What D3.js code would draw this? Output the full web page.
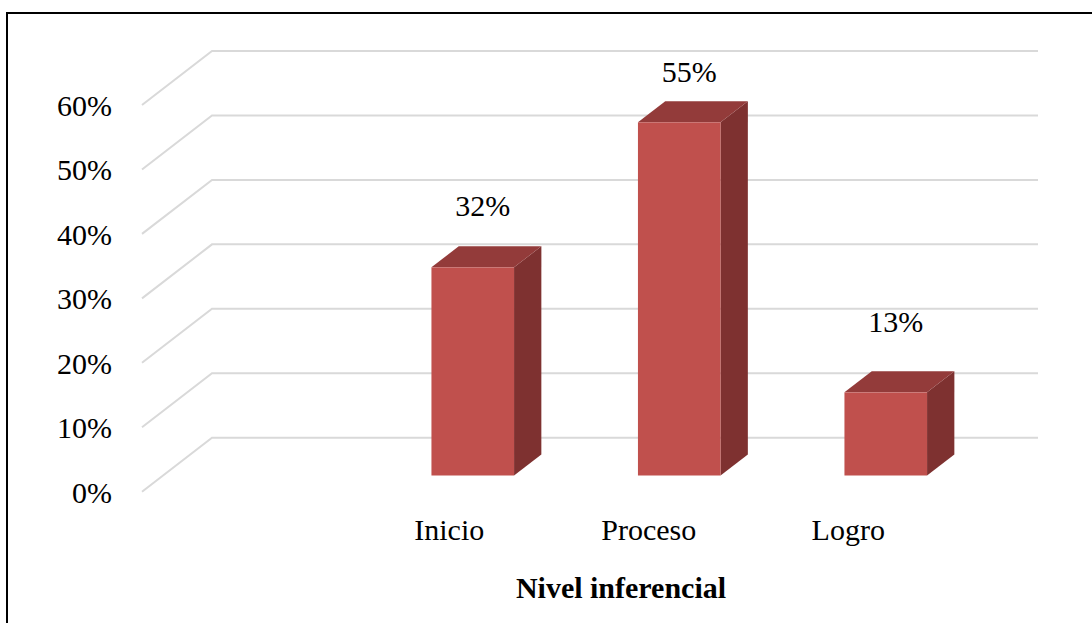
<!DOCTYPE html>
<html>
<head>
<meta charset="utf-8">
<script src="https://cdn.jsdelivr.net/npm/d3@7"></script>
<style>
  html, body { margin: 0; padding: 0; background: #fff; }
  svg { display: block; }
</style>
</head>
<body>
<svg id="chart" width="1092" height="623"></svg>
<script>
// ---- data ----
const categories = ["", "Inicio", "Proceso", "Logro"];
const values = [null, 32.3, 54.8, 12.9];
const valueLabels = ["", "32%", "55%", "13%"];
const yTicks = [0, 10, 20, 30, 40, 50, 60];
const yTickLabels = ["0%", "10%", "20%", "30%", "40%", "50%", "60%"];
const axisTitle = "Nivel inferencial";

// ---- layout ----
const FONT = "'Liberation Serif', 'Times New Roman', Tinos, 'DejaVu Serif', serif";
const svg = d3.select("#chart");

// chart frame (extends beyond right/bottom edges as in reference)
svg.append("rect")
  .attr("x", 7).attr("y", 13)
  .attr("width", 1200).attr("height", 800)
  .attr("fill", "none").attr("stroke", "#000").attr("stroke-width", 2);

const DX = 70, DY = 54;          // depth projection of back wall
const Z0 = 0.3, Z1 = 0.69;       // bar depth span (fraction of depth)
const x = d3.scaleBand().domain(categories).range([142, 968]).paddingInner(0).paddingOuter(0);
const y = d3.scaleLinear().domain([0, 60]).range([491.7, 105]);
const xLab = d3.scaleBand().domain(categories).range([150, 948]);
const yLab = d3.scaleLinear().domain([0, 60]).range([408.7, 50.7]);

// gridlines: side wall diagonal + back wall horizontal
const grid = svg.append("g");
yTicks.forEach(t => {
  const yf = y(t);
  grid.append("polyline")
    .attr("points", `${142},${yf} ${142 + DX},${yf - DY} ${968 + DX},${yf - DY}`)
    .attr("fill", "none").attr("stroke", "#D9D9D9").attr("stroke-width", 2);
});

// y tick labels
svg.append("g").selectAll("text").data(yTicks).join("text")
  .attr("x", 112).attr("y", d => y(d) + 11)
  .attr("text-anchor", "end")
  .attr("font-family", FONT).attr("font-size", 30).attr("fill", "#000")
  .text((d, i) => yTickLabels[i]);

// bars
const bw = x.bandwidth() * 0.4;
const bars = svg.append("g");
categories.forEach((c, i) => {
  const v = values[i];
  if (v == null) return;
  const sx0 = DX * Z0, sy0 = DY * Z0;
  const sx1 = DX * Z1, sy1 = DY * Z1;
  const xl = x(c) + (x.bandwidth() - bw) / 2 + sx0;
  const xr = xl + bw;
  const yb = y(0) - sy0;
  const yt = y(v) - sy0;
  const ddx = sx1 - sx0, ddy = sy1 - sy0;
  // side face
  bars.append("polygon")
    .attr("points", `${xr},${yt} ${xr + ddx},${yt - ddy} ${xr + ddx},${yb - ddy} ${xr},${yb}`)
    .attr("fill", "#7E3130");
  // top face
  bars.append("polygon")
    .attr("points", `${xl},${yt} ${xl + ddx},${yt - ddy} ${xr + ddx},${yt - ddy} ${xr},${yt}`)
    .attr("fill", "#933B3A");
  // front face
  bars.append("rect")
    .attr("x", xl).attr("y", yt).attr("width", bw).attr("height", yb - yt)
    .attr("fill", "#C0504D");
  // value label
  svg.append("text")
    .attr("x", xl + bw / 2 + 10)
    .attr("y", yLab(v))
    .attr("text-anchor", "middle")
    .attr("font-family", FONT).attr("font-size", 30).attr("fill", "#000")
    .text(valueLabels[i]);
});

// category labels
svg.append("g").selectAll("text").data(categories).join("text")
  .attr("x", d => xLab(d) + xLab.bandwidth() / 2)
  .attr("y", 540)
  .attr("text-anchor", "middle")
  .attr("font-family", FONT).attr("font-size", 30).attr("fill", "#000")
  .text(d => d);

// axis title
svg.append("text")
  .attr("x", 621).attr("y", 598)
  .attr("text-anchor", "middle")
  .attr("font-family", FONT).attr("font-size", 30).attr("font-weight", "bold").attr("fill", "#000")
  .text(axisTitle);
</script>
</body>
</html>
